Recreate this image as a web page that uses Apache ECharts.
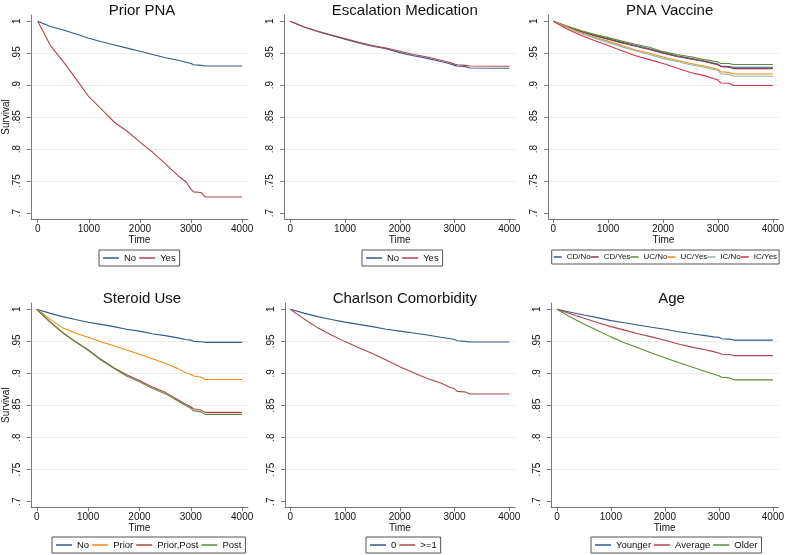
<!DOCTYPE html>
<html><head><meta charset="utf-8">
<script src="https://cdn.jsdelivr.net/npm/echarts@6/dist/echarts.min.js"></script>
<style>html,body{margin:0;padding:0;background:#fff}#c{width:787px;height:555px}</style>
</head><body><div id="c"></div><script>
// ---- data ----
const times = [0,250,500,750,1000,1250,1500,1750,2000,2250,2500,2750,2900,3000,3050,3200,3280,4000];
const yTicks = [0.7,0.75,0.8,0.85,0.9,0.95,1];
const xTicks = [0,1000,2000,3000,4000];

const priorPnaNo  = [1,0.992,0.9865,0.980,0.9735,0.968,0.963,0.958,0.953,0.948,0.943,0.939,0.936,0.934,0.932,0.931,0.930,0.930];
const priorPnaYes = [1,0.962,0.937,0.910,0.882,0.862,0.842,0.828,0.811,0.795,0.777,0.758,0.749,0.737,0.733,0.732,0.725,0.725];

const escNo  = [1,0.991,0.984,0.978,0.972,0.966,0.961,0.957,0.951,0.946,0.942,0.937,0.934,0.931,0.930,0.929,0.927,0.9266];
const escYes = [1,0.991,0.9845,0.9785,0.973,0.967,0.962,0.958,0.953,0.948,0.944,0.939,0.936,0.933,0.932,0.931,0.930,0.9297];

const vacCDNo  = [1,0.992,0.9845,0.978,0.9725,0.967,0.962,0.957,0.951,0.946,0.942,0.938,0.935,0.933,0.930,0.929,0.928,0.928];
const vacCDYes = [1,0.9915,0.984,0.9775,0.972,0.966,0.961,0.956,0.950,0.945,0.941,0.937,0.934,0.932,0.929,0.928,0.926,0.926];
const vacUCNo  = [1,0.9925,0.9855,0.9795,0.9745,0.969,0.964,0.9595,0.9525,0.948,0.9445,0.940,0.938,0.9365,0.934,0.934,0.9325,0.9325];
const vacUCYes = [1,0.991,0.982,0.975,0.969,0.962,0.955,0.950,0.944,0.939,0.934,0.930,0.927,0.925,0.921,0.920,0.9175,0.9175];
const vacICNo  = [1,0.990,0.981,0.974,0.967,0.960,0.954,0.948,0.942,0.937,0.932,0.928,0.925,0.923,0.918,0.917,0.914,0.914];
const vacICYes = [1,0.988,0.978,0.970,0.962,0.954,0.946,0.940,0.934,0.927,0.920,0.915,0.911,0.908,0.9035,0.903,0.8995,0.8995];

const sterNo        = [1,0.994,0.9886,0.984,0.9797,0.9765,0.973,0.969,0.966,0.962,0.959,0.9555,0.953,0.952,0.950,0.9495,0.9485,0.9485];
const sterPrior     = [1,0.985,0.9714,0.963,0.9563,0.9495,0.9433,0.9365,0.930,0.923,0.9158,0.9075,0.901,0.8986,0.896,0.894,0.8905,0.8905];
const sterPriorPost = [1,0.981,0.964,0.950,0.937,0.922,0.909,0.898,0.889,0.879,0.8705,0.859,0.852,0.848,0.845,0.843,0.8393,0.8393];
const sterPost      = [1,0.981,0.9635,0.9495,0.936,0.921,0.908,0.896,0.887,0.877,0.8685,0.857,0.850,0.8456,0.842,0.840,0.8362,0.8362];

const charl0  = [1,0.994,0.9886,0.984,0.980,0.9765,0.973,0.969,0.966,0.963,0.960,0.9565,0.9545,0.953,0.951,0.950,0.949,0.949];
const charl1p = [1,0.985,0.9714,0.960,0.9496,0.940,0.931,0.921,0.9106,0.901,0.892,0.885,0.879,0.876,0.872,0.871,0.868,0.868];

const ageYounger = [1,0.9955,0.991,0.987,0.9823,0.979,0.9755,0.972,0.9688,0.965,0.962,0.959,0.957,0.9563,0.954,0.9535,0.952,0.952];
const ageAverage = [1,0.993,0.986,0.9795,0.973,0.9675,0.962,0.957,0.9516,0.946,0.941,0.937,0.934,0.9319,0.930,0.9295,0.9277,0.9277];
const ageOlder   = [1,0.988,0.977,0.967,0.957,0.948,0.940,0.932,0.9246,0.917,0.910,0.903,0.899,0.8965,0.894,0.893,0.890,0.890];

// ---- styling / layout ----
const BLUE='#34588c', RED='#ad444c', GREEN='#5f8a36', ORANGE='#f08c14', TEAL='#95b3a7', CRIM='#d6304c', MAROON='#8a3a48';
const FONT='Liberation Sans, Arial, sans-serif';
const row1 = {y1:21.3, y07:213, axT:15, axB:219, titleTop:-2, legTop:250};
const row2 = {y1:309.3, y07:501.7, axT:303, axB:507.3, titleTop:286, legTop:537};
const panels = [
  {title:'Prior PNA', row:row1, x0:32, x4:242, axL:25, axR:248, ylab:true, leg:99,
   series:[['No',priorPnaNo,BLUE],['Yes',priorPnaYes,RED]]},
  {title:'Escalation Medication', row:row1, x0:290.3, x4:509.3, axL:284.3, axR:515, leg:362,
   series:[['No',escNo,BLUE],['Yes',escYes,RED]]},
  {title:'PNA Vaccine', row:row1, x0:553.3, x4:776, axL:548.3, axR:781.7, leg:551.7, small:true,
   series:[['CD/No',vacCDNo,BLUE],['CD/Yes',vacCDYes,MAROON],['UC/No',vacUCNo,GREEN],['UC/Yes',vacUCYes,ORANGE],['IC/No',vacICNo,TEAL],['IC/Yes',vacICYes,CRIM]]},
  {title:'Steroid Use', row:row2, x0:32, x4:242, axL:26, axR:248, ylab:true, leg:52,
   series:[['No',sterNo,BLUE],['Prior',sterPrior,ORANGE],['Prior,Post',sterPriorPost,RED],['Post',sterPost,GREEN]]},
  {title:'Charlson Comorbidity', row:row2, x0:290.3, x4:509.3, axL:285, axR:515, leg:366,
   series:[['0',charl0,BLUE],['>=1',charl1p,RED]]},
  {title:'Age', row:row2, x0:557, x4:776, axL:551, axR:781.7, leg:591,
   series:[['Younger',ageYounger,BLUE],['Average',ageAverage,RED],['Older',ageOlder,GREEN]]}
];

const option = {animation:false, backgroundColor:'#fff', textStyle:{fontFamily:FONT},
  grid:[], xAxis:[], yAxis:[], title:[], legend:[], series:[]};
const fmtY = v => (Math.abs(v-1)<1e-9 ? '1' : String(+v.toFixed(2)).replace(/^0/,''));
const fmtX = v => String(Math.round(v));

panels.forEach((p,i)=>{
  const r=p.row;
  const xs=(p.x4-p.x0)/4000;
  const ys=(r.y07-r.y1)/0.3;
  option.grid.push({left:p.axL, top:r.axT, width:p.axR-p.axL, height:r.axB-r.axT, containLabel:false});
  option.xAxis.push({type:'value', gridIndex:i,
    min:-(p.x0-p.axL)/xs, max:4000+(p.axR-p.x4)/xs,
    name:'Time', nameLocation:'middle', nameGap:14, nameTextStyle:{fontSize:10,color:'#111',fontFamily:FONT},
    axisLine:{show:true, onZero:false, lineStyle:{color:'#7a7a7a',width:1}},
    axisTick:{show:true, length:4, customValues:xTicks, lineStyle:{color:'#7a7a7a'}},
    axisLabel:{customValues:xTicks, fontSize:10, color:'#111', margin:5, formatter:fmtX, fontFamily:FONT},
    splitLine:{show:false}});
  option.yAxis.push({type:'value', gridIndex:i,
    min:0.7-(r.axB-r.y07)/ys, max:1+(r.y1-r.axT)/ys,
    name:p.ylab?'Survival':'', nameLocation:'middle', nameGap:16, nameRotate:90,
    nameTextStyle:{fontSize:10,color:'#111',fontFamily:FONT},
    axisLine:{show:true, onZero:false, lineStyle:{color:'#7a7a7a',width:1}},
    axisTick:{show:true, length:4, customValues:yTicks, lineStyle:{color:'#7a7a7a'}},
    axisLabel:{customValues:yTicks, rotate:90, fontSize:10, color:'#111', margin:9, formatter:fmtY, fontFamily:FONT},
    splitLine:{show:true, showMinLine:false, showMaxLine:false, lineStyle:{color:'#ececec',width:1}}});
  option.title.push({text:p.title, left:(p.x0+p.x4)/2, top:r.titleTop, textAlign:'center',
    textStyle:{fontSize:15, fontWeight:'normal', color:'#111', fontFamily:FONT}});
  option.legend.push({data:p.series.map(s=>s[0]), left:p.leg, top:r.legTop, orient:'horizontal', width:300,
    borderColor:'#555', borderWidth:1, padding:p.small?[3,2]:[3,4], itemGap:p.small?0:3, itemWidth:p.small?8:16, itemHeight:1.5,
    icon:'rect', selectedMode:false,
    textStyle:{fontSize:p.small?8:9.5, color:'#111', fontFamily:FONT}});
  p.series.forEach(s=>{
    option.series.push({type:'line', name:s[0], xAxisIndex:i, yAxisIndex:i,
      data:times.map((t,k)=>[t,s[1][k]]), symbol:'none', showSymbol:false,
      color:s[2], lineStyle:{width:1.1,color:s[2]}, itemStyle:{color:s[2]}, silent:true});
  });
});

const chart = echarts.init(document.getElementById('c'), null, {renderer:'canvas'});
chart.setOption(option);
</script></body></html>
